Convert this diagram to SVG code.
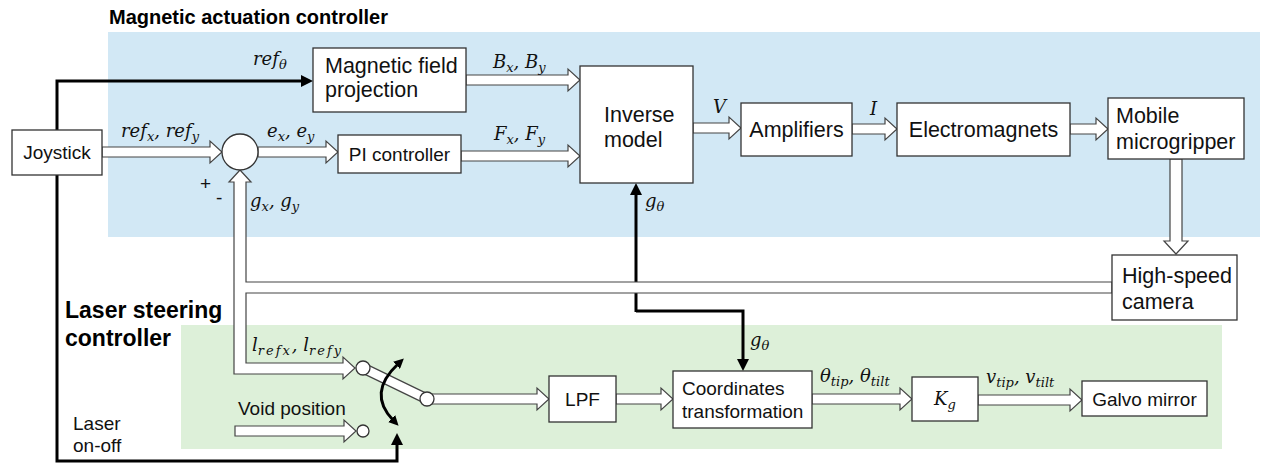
<svg xmlns="http://www.w3.org/2000/svg" width="1262" height="466" viewBox="0 0 1262 466">
<defs>
<style>
.bx{fill:#fff;stroke:#333;stroke-width:1.3}
.t{font-family:"Liberation Sans",Arial,sans-serif;font-size:19px;fill:#111}
.L{font-size:21.5px}
.tc{text-anchor:middle}
.h{font-family:"Liberation Sans",Arial,sans-serif;font-size:20px;font-weight:bold;fill:#000}
.h2{font-size:23px}
.m{font-family:"DejaVu Serif","Liberation Serif",serif;font-style:italic;font-size:18px;fill:#111}
.s{font-size:13px}
.sp{letter-spacing:2px}
.ha{fill:#fff;stroke:#444;stroke-width:1.2;stroke-linejoin:miter}
.bl{fill:none;stroke:#000;stroke-width:3}
.cr{fill:#fff;stroke:#333;stroke-width:1.3}
</style>
<marker id="ah" markerUnits="userSpaceOnUse" markerWidth="12" markerHeight="12" refX="2" refY="6" orient="auto"><path d="M0,0 L12,6 L0,12 Z" fill="#000"/></marker>
<marker id="ah2" markerUnits="userSpaceOnUse" markerWidth="10" markerHeight="10" refX="2" refY="5" orient="auto-start-reverse"><path d="M0,0 L10,5 L0,10 Z" fill="#000"/></marker>
</defs>
<rect id="blue-region" x="108" y="32" width="1152" height="205" fill="#d2e8f5"/>
<rect id="green-region" x="181" y="325" width="1041" height="124" fill="#ddf0d9"/>
<text class="h" x="109" y="24">Magnetic actuation controller</text>
<text class="h h2" x="65" y="318">Laser steering</text>
<text class="h h2" x="65" y="346">controller</text>

<g id="connectors">
<path class="bl" d="M57,130 V81 H303" marker-end="url(#ah)"/>
<path class="bl" d="M57,175 V461 H397 V443" marker-end="url(#ah)"/>
<path class="bl" d="M636,312 V193" marker-end="url(#ah)"/>
<path class="bl" d="M636,311 H743 V361" marker-end="url(#ah)"/>
<polygon class="ha" points="102,147 210,147 210,141 222,152 210,163 210,157 102,157"/>
<polygon class="ha" points="258,147 326,147 326,141 338,152 326,163 326,157 258,157"/>
<polygon class="ha" points="461,151 568,151 568,145 580,156 568,167 568,161 461,161"/>
<polygon class="ha" points="466,75 568,75 568,69 580,80 568,91 568,85 466,85"/>
<polygon class="ha" points="693,123 729,123 729,117 741,128 729,139 729,133 693,133"/>
<polygon class="ha" points="852,124 885,124 885,118 897,129 885,140 885,134 852,134"/>
<polygon class="ha" points="1070,124 1096,124 1096,118 1108,129 1096,140 1096,134 1070,134"/>
<polygon class="ha" points="1170,159 1170,241 1164,241 1176,254 1188,241 1182,241 1182,159"/>
<polygon class="ha" points="1112,282 246,282 246,182 251,182 240,170 229,182 234,182 234,374 343,374 343,379 355,368 343,357 343,363 246,363 246,293 1112,293"/>
<polygon class="ha" points="427,394 537,394 537,388 549,399 537,410 537,404 427,404"/>
<polygon class="ha" points="616,394 661,394 661,388 673,399 661,410 661,404 616,404"/>
<polygon class="ha" points="812,394 900,394 900,388 912,399 900,410 900,404 812,404"/>
<polygon class="ha" points="978,395 1070,395 1070,389 1082,400 1070,411 1070,405 978,405"/>
<polygon class="ha" points="235,426 344,426 344,420 356,431 344,442 344,436 235,436"/>
<line x1="363" y1="368" x2="427" y2="399" stroke="#444" stroke-width="11"/>
<line x1="363" y1="368" x2="427" y2="399" stroke="#fff" stroke-width="8.6"/>
<path d="M393,420 Q367,393 398,364" fill="none" stroke="#000" stroke-width="3" marker-start="url(#ah2)" marker-end="url(#ah2)"/>
</g>

<g id="switch">
<circle class="cr" cx="363" cy="368" r="7"/>
<circle class="cr" cx="427" cy="399" r="7"/>
<circle class="cr" cx="363" cy="431" r="6"/>
</g>

<g id="joystick"><rect class="bx" x="12" y="130" width="90" height="45"/><text class="t tc" x="57" y="159">Joystick</text></g>
<g id="sum"><circle class="cr" cx="240" cy="152" r="18"/></g>
<g id="magfield"><rect class="bx" x="313" y="48" width="153" height="64"/><text class="t L" x="325" y="73">Magnetic field</text><text class="t L" x="325" y="97">projection</text></g>
<g id="pi"><rect class="bx" x="338" y="135" width="123" height="38"/><text class="t tc" x="399.5" y="161">PI controller</text></g>
<g id="inverse"><rect class="bx" x="580" y="66" width="113" height="117"/><text class="t L" x="604" y="122">Inverse</text><text class="t L" x="604" y="147">model</text></g>
<g id="amplifiers"><rect class="bx" x="741" y="103" width="111" height="53"/><text class="t L tc" x="796.5" y="137">Amplifiers</text></g>
<g id="electromagnets"><rect class="bx" x="897" y="103" width="173" height="53"/><text class="t L tc" x="983.5" y="137">Electromagnets</text></g>
<g id="mobile"><rect class="bx" x="1108" y="98" width="136" height="61"/><text class="t L" x="1116" y="123">Mobile</text><text class="t L" x="1116" y="149">microgripper</text></g>
<g id="camera"><rect class="bx" x="1112" y="255" width="125" height="65"/><text class="t L" x="1122" y="283">High-speed</text><text class="t L" x="1122" y="309">camera</text></g>
<g id="lpf"><rect class="bx" x="549" y="376" width="67" height="46"/><text class="t tc" x="582.5" y="406">LPF</text></g>
<g id="coord"><rect class="bx" x="673" y="371" width="139" height="57"/><text class="t" x="682" y="395">Coordinates</text><text class="t" x="682" y="418">transformation</text></g>
<g id="kg"><rect class="bx" x="912" y="377" width="66" height="44"/><text class="m" x="934" y="405">K<tspan class="s" dy="4">g</tspan></text></g>
<g id="galvo"><rect class="bx" x="1082" y="381" width="125" height="35"/><text class="t tc" x="1144.5" y="406">Galvo mirror</text></g>

<g id="labels">
<text class="m" x="253" y="65">ref<tspan class="s" dy="4">θ</tspan></text>
<text class="m" x="121" y="137">ref<tspan class="s" dy="4">x</tspan><tspan dy="-4">, ref</tspan><tspan class="s" dy="4">y</tspan></text>
<text class="m" x="267" y="137">e<tspan class="s" dy="4">x</tspan><tspan dy="-4">, e</tspan><tspan class="s" dy="4">y</tspan></text>
<text class="m" x="493" y="68">B<tspan class="s" dy="4">x</tspan><tspan dy="-4">, B</tspan><tspan class="s" dy="4">y</tspan></text>
<text class="m" x="494" y="140">F<tspan class="s" dy="4">x</tspan><tspan dy="-4">, F</tspan><tspan class="s" dy="4">y</tspan></text>
<text class="m" x="713" y="113">V</text>
<text class="m" x="870" y="115">I</text>
<text class="m" x="645" y="207">g<tspan class="s" dy="4">θ</tspan></text>
<text class="m" x="250" y="207">g<tspan class="s" dy="4">x</tspan><tspan dy="-4">, g</tspan><tspan class="s" dy="4">y</tspan></text>
<text class="m" x="750" y="346">g<tspan class="s" dy="4">θ</tspan></text>
<text class="m" x="252" y="351">l<tspan class="s sp" dy="4">refx</tspan><tspan dy="-4">, l</tspan><tspan class="s sp" dy="4">refy</tspan></text>
<text class="m" x="820" y="382">θ<tspan class="s" dy="4">tip</tspan><tspan dy="-4">, θ</tspan><tspan class="s" dy="4">tilt</tspan></text>
<text class="m" x="986" y="383">v<tspan class="s" dy="4">tip</tspan><tspan dy="-4">, v</tspan><tspan class="s" dy="4">tilt</tspan></text>
<text class="t" x="200" y="190">+</text>
<text class="t" x="216" y="204">-</text>
<text class="t" x="238" y="415">Void position</text>
<text class="t" x="73" y="430">Laser</text>
<text class="t" x="73" y="452">on-off</text>
</g>
</svg>
